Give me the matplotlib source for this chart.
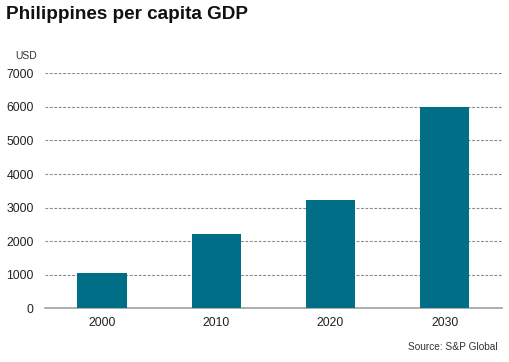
import matplotlib
matplotlib.use("Agg")
import matplotlib.pyplot as plt

years = ["2000", "2010", "2020", "2030"]
gdp_per_capita = [1050, 2215, 3220, 5990]
yticks = [0, 1000, 2000, 3000, 4000, 5000, 6000, 7000]

plt.rcParams['font.family'] = ['Liberation Sans', 'DejaVu Sans']

fig = plt.figure(figsize=(5.10, 3.62), dpi=100)
ax = fig.add_axes([0.088, 0.1483, 0.896, 0.6492])

x = range(len(years))
ax.bar(x, gdp_per_capita, width=0.43, color="#006E87", zorder=3)
ax.set_xlim(-0.5, len(years) - 0.5)
ax.set_ylim(0, 7000)
ax.set_yticks(yticks)
ax.set_yticklabels([str(t) for t in yticks], fontsize=8.8, color="#222222")
ax.set_xticks(list(x))
ax.set_xticklabels(years, fontsize=8.8, color="#222222")
ax.tick_params(axis='both', length=0, pad=8)
ax.tick_params(axis='x', pad=6)

for t in yticks[1:]:
    ax.axhline(t, color="#8a8a8a", linestyle=(0, (2.5, 1.5)), linewidth=0.8, zorder=1)
for s in ["top", "right", "left"]:
    ax.spines[s].set_visible(False)
ax.spines["bottom"].set_color("#a0a0a0")
ax.spines["bottom"].set_linewidth(1.2)

fig.text(0.012, 0.96, "Philippines per capita GDP", fontsize=13.6, fontweight="bold",
         color="#111111", va="center", ha="left")
fig.text(0.073, 0.845, "USD", fontsize=7.5, color="#333333", ha="right", va="center")
fig.text(0.975, 0.042, "Source: S&P Global", fontsize=7.3, color="#333333", ha="right", va="center")

fig.savefig("out.png", dpi=100)
